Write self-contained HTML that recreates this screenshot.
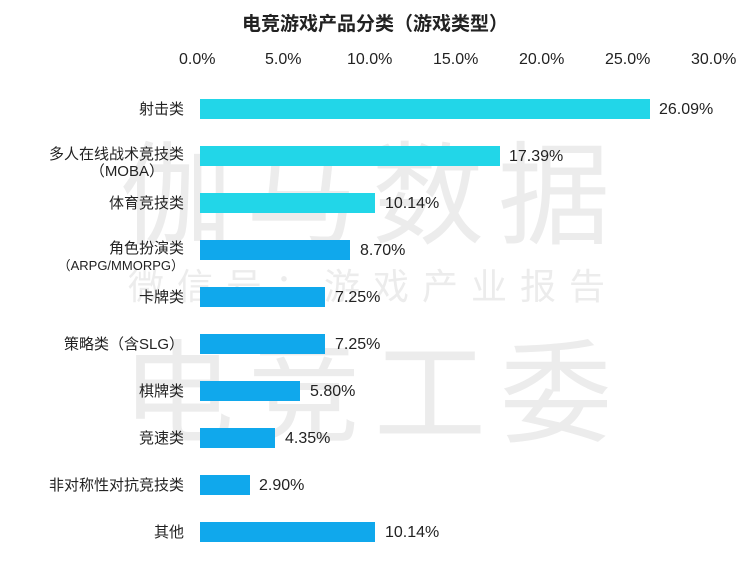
<!DOCTYPE html>
<html><head><meta charset="utf-8"><style>
body{margin:0;width:750px;height:563px;background:#fff;position:relative;overflow:hidden;font-family:"Liberation Sans","Noto Sans CJK SC",sans-serif;color:#222}
.a{position:absolute;white-space:nowrap}
.wm{color:#ececec;font-family:"Noto Sans CJK SC",sans-serif}
.bar{position:absolute;left:200px;height:20px}
.c{background:#22d6e8}.b{background:#10a8ec}
.t{font-size:16px;line-height:20px}
.lab{right:566px;text-align:right;font-size:15px;line-height:17px}
</style></head><body>
<div class="a wm" style="left:120px;top:112px;font-size:112px;line-height:150px;letter-spacing:14px">伽马数据</div>
<div class="a wm" style="left:128px;top:262px;font-size:36px;line-height:44px;letter-spacing:13px">微信号：游戏产业报告</div>
<div class="a wm" style="left:122px;top:310px;font-size:112px;line-height:150px;letter-spacing:14px">电竞工委</div>
<div class="a" style="left:0;width:750px;text-align:center;top:9px;font-size:19px;font-weight:bold">电竞游戏产品分类（游戏类型）</div>
<div class="a t" style="left:179px;top:50px">0.0%</div>
<div class="a t" style="left:265px;top:50px">5.0%</div>
<div class="a t" style="left:347px;top:50px">10.0%</div>
<div class="a t" style="left:433px;top:50px">15.0%</div>
<div class="a t" style="left:519px;top:50px">20.0%</div>
<div class="a t" style="left:605px;top:50px">25.0%</div>
<div class="a t" style="left:691px;top:50px">30.0%</div>

<div class="bar c" style="top:99px;width:450px"></div><div class="a t" style="left:659px;top:100px">26.09%</div>
<div class="bar c" style="top:146px;width:300px"></div><div class="a t" style="left:509px;top:147px">17.39%</div>
<div class="bar c" style="top:193px;width:175px"></div><div class="a t" style="left:385px;top:194px">10.14%</div>
<div class="bar b" style="top:240px;width:150px"></div><div class="a t" style="left:360px;top:241px">8.70%</div>
<div class="bar b" style="top:287px;width:125px"></div><div class="a t" style="left:335px;top:288px">7.25%</div>
<div class="bar b" style="top:334px;width:125px"></div><div class="a t" style="left:335px;top:335px">7.25%</div>
<div class="bar b" style="top:381px;width:100px"></div><div class="a t" style="left:310px;top:382px">5.80%</div>
<div class="bar b" style="top:428px;width:75px"></div><div class="a t" style="left:285px;top:429px">4.35%</div>
<div class="bar b" style="top:475px;width:50px"></div><div class="a t" style="left:259px;top:476px">2.90%</div>
<div class="bar b" style="top:522px;width:175px"></div><div class="a t" style="left:385px;top:523px">10.14%</div>

<div class="a lab" style="top:101px">射击类</div>
<div class="a lab" style="top:146px">多人在线战术竞技类<br><span style="margin-right:20px">（MOBA）</span></div>
<div class="a lab" style="top:195px">体育竞技类</div>
<div class="a lab" style="top:240px">角色扮演类<br><span style="font-size:13px">（ARPG/MMORPG）</span></div>
<div class="a lab" style="top:289px">卡牌类</div>
<div class="a lab" style="top:336px">策略类（含SLG）</div>
<div class="a lab" style="top:383px">棋牌类</div>
<div class="a lab" style="top:430px">竞速类</div>
<div class="a lab" style="top:477px">非对称性对抗竞技类</div>
<div class="a lab" style="top:524px">其他</div>
</body></html>
